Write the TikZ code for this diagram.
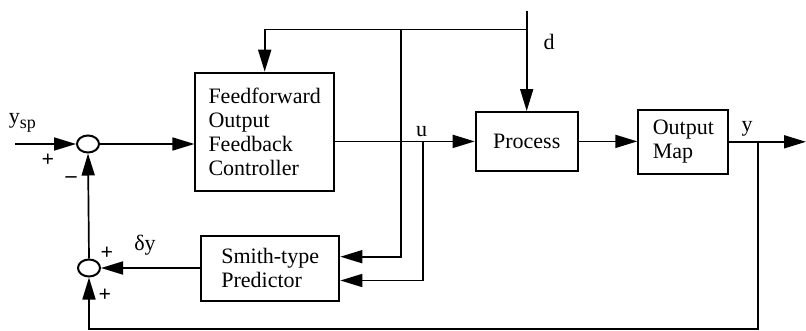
\documentclass[tikz,border=0pt]{standalone}
\usepackage{fontspec}
\setmainfont{Liberation Serif}
\usetikzlibrary{arrows.meta,shapes.geometric}
\begin{document}
\begin{tikzpicture}[x=1pt,y=-1pt,
  line width=1.7pt,
  >={Triangle[length=22pt,width=13pt]},
  blk/.style={draw,line width=2pt,inner sep=0pt,align=left,font=\fontsize{22}{24}\selectfont},
  sumj/.style={draw,ellipse,line width=2pt,minimum width=22pt,minimum height=17pt,inner sep=0pt},
  lbl/.style={font=\fontsize{22}{24}\selectfont,inner sep=0pt},
  sgn/.style={font=\bfseries\fontsize{22}{22}\selectfont,inner sep=0pt}]
\useasboundingbox (0,0) rectangle (806,331);
% blocks
\node[blk,minimum width=138.5pt,minimum height=118pt] (ff) at (264.7,131.7) {Feedforward\\Output\\Feedback\\Controller};
\node[blk,minimum width=138.3pt,minimum height=64.7pt] (sm) at (270.2,268.3) {Smith-type\\Predictor};
\node[blk,minimum width=102pt,minimum height=58.7pt] (pr) at (526.7,141.4) {Process};
\node[blk,minimum width=90pt,minimum height=64.3pt] (om) at (683.3,141.8) {Output\\Map};
\node[sumj] (s1) at (88,144) {};
\node[sumj] (s2) at (89,268) {};
% coordinates
\coordinate (ysp) at (15,144);
\coordinate (dtop) at (526.7,11);
\coordinate (dj) at (526.7,29.5);
\coordinate (ffj) at (264.7,29.5);
\coordinate (bj) at (401,29.5);
\coordinate (bk) at (401,256.7);
\coordinate (uj) at (422.7,141.4);
\coordinate (uk) at (422.7,280.5);
\coordinate (yj) at (758.3,141.8);
\coordinate (yend) at (806,141.8);
\coordinate (yb) at (758.3,329);
\coordinate (sb) at (89,329);
% connectors
\draw[->] (ysp) -- (s1.west);
\draw[->] (s1.east) -- (ff.west |- s1.east);
\draw[->] (ff.east |- pr.west) -- (pr.west);
\draw[->] (pr.east) -- (om.west |- pr.east);
\draw[->] (om.east) -- (yend);
\draw[->] (dtop) -- (pr.north);
\draw[->] (dj) -- (ffj) -- (ff.north);
\draw[->] (bj) -- (bk) -- (sm.east |- bk);
\draw[->] (uj) -- (uk) -- (sm.east |- uk);
\draw[->] (yj) -- (yb) -- (sb) -- (s2.south);
\draw[->] (sm.west |- s2.east) -- (s2.east);
\draw[->] (s2.north) -- (s1.south);
% labels
\node[lbl,anchor=base west] (lysp) at (8,124) {y\raisebox{-5pt}{\fontsize{18}{18}\selectfont sp}};
\node[lbl,anchor=base] (ld) at (549,50) {d};
\node[lbl,anchor=base] (lu) at (421.7,137) {u};
\node[lbl,anchor=base] (ly) at (747,132) {y};
\node[lbl,anchor=base] (ldy) at (145,251) {δy};
\node[sgn] (p1) at (48,160) {+};
\node[sgn] (m1) at (71,180) {–};
\node[sgn] (p2) at (107,253) {+};
\node[sgn] (p3) at (105,295) {+};
\end{tikzpicture}
\end{document}
